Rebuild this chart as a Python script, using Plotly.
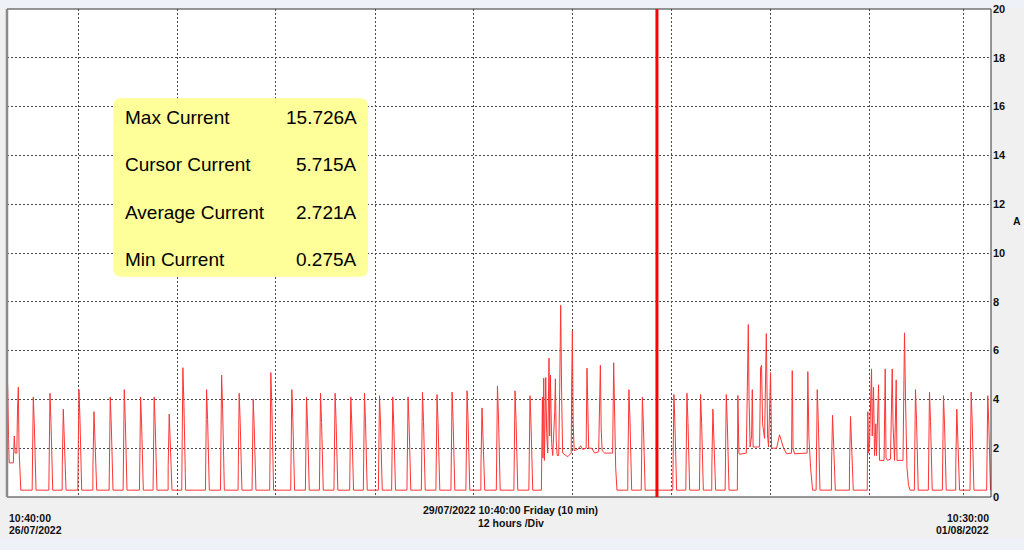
import plotly.graph_objects as go

# ---------------- data (time = hours since 26/07/2022 10:40:00, current in A) -------------
SPAN_H = 143.33
BASE_A = 0.28
SAMPLE_H = 1.0 / 6.0  # 10 min logging interval

start_t = [0.0, 0.12, 0.23, 0.32, 0.92, 1.06, 1.19, 1.43, 1.53, 1.65, 1.75, 1.89, 2.01]
start_a = [5.3, 4.3, 2.4, 1.4, 1.4, 2.5, 1.8, 1.8, 3.6, 4.5, 2.0, 1.2, 0.28]

spike_t = [3.83, 6.26, 8.20, 10.48, 12.67, 15.04, 17.08, 19.46, 21.44, 23.63,
           25.62, 29.07, 31.26, 33.82, 35.86, 38.43, 41.49, 43.63, 45.67, 47.79,
           50.08, 52.07, 54.26, 56.19, 58.42, 60.52, 62.64, 64.83, 67.01, 69.19,
           71.44, 74.00, 76.18, 90.59, 92.55, 97.14, 99.04, 101.03, 102.82, 104.77,
           118.02, 120.25, 122.87, 132.33, 134.37, 136.41, 138.35, 140.44, 142.86]
spike_a = [4.1, 4.25, 3.6, 4.4, 3.5, 4.1, 4.4, 4.1, 4.1, 3.4,
           5.3, 4.4, 5.0, 4.25, 4.0, 5.1, 4.4, 4.1, 4.25, 4.25,
           4.1, 4.25, 4.15, 4.1, 4.1, 4.3, 4.2, 4.3, 4.35, 3.65,
           4.55, 4.35, 4.15, 4.4, 4.1, 4.2, 4.25, 4.2, 3.6, 4.2,
           4.4, 3.35, 3.3, 4.4, 4.3, 4.15, 3.6, 4.3, 4.15]

burst1_t = [77.84, 77.86, 77.99, 78.07, 78.18, 78.28, 78.47, 78.61, 78.76, 78.95,
            79.05, 79.15, 79.34, 79.49, 79.78, 79.88, 80.00, 80.14, 80.36, 80.51,
            80.65, 80.80, 80.94, 81.67, 82.18, 82.25, 82.35, 82.47, 82.62, 83.13,
            83.56, 83.85, 84.36, 84.48, 84.58, 84.73, 85.16, 85.60, 86.18, 86.43,
            86.55, 86.69, 87.06, 88.22, 88.37, 88.51, 88.66, 88.85]
burst1_a = [0.28, 1.44, 4.1, 1.6, 4.87, 1.5, 4.9, 2.6, 1.8, 5.69,
            2.5, 5.0, 2.2, 1.7, 3.5, 4.84, 2.3, 1.7, 1.7, 4.5,
            7.86, 4.0, 1.8, 1.65, 1.8, 4.5, 6.8, 3.0, 1.9, 1.95,
            2.1, 1.95, 2.0, 5.28, 3.0, 2.0, 2.0, 1.8, 1.85, 5.4,
            2.8, 1.9, 1.8, 1.8, 5.5, 3.5, 1.2, 0.28]

burst2_t = [106.38, 106.46, 106.61, 106.71, 107.69, 107.80, 107.98, 108.09, 108.24, 108.46,
            108.56, 108.68, 109.62, 109.77, 109.91, 110.06, 110.35, 110.60, 110.79, 110.93,
            111.12, 111.22, 111.37, 112.10, 112.53, 112.82, 113.12, 113.55, 114.28, 114.38,
            114.50, 114.72, 116.54, 116.65, 116.80, 117.05, 117.34]
burst2_a = [0.28, 4.16, 1.8, 1.75, 1.8, 3.5, 7.07, 4.0, 2.05, 2.5,
            4.4, 2.05, 2.05, 5.3, 5.4, 3.0, 2.4, 6.7, 2.5, 2.05,
            3.5, 5.1, 2.0, 2.0, 2.55, 2.3, 2.0, 1.77, 1.8, 5.18,
            2.0, 1.77, 1.8, 5.14, 2.5, 1.2, 0.28]

burst3_t = [125.30, 125.39, 125.49, 125.64, 125.93, 126.03, 126.22, 126.36, 126.55, 126.65,
            126.95, 127.09, 127.75, 127.92, 128.04, 128.26, 128.69, 128.94, 129.06, 129.28,
            129.52, 129.64, 130.51, 130.73, 130.88, 131.09, 131.31, 131.53]
burst3_a = [0.28, 3.5, 1.8, 2.2, 5.25, 2.5, 4.5, 1.7, 3.0, 1.7,
            4.6, 1.5, 1.5, 5.25, 1.6, 1.5, 1.55, 5.25, 3.0, 1.5,
            4.8, 1.5, 1.5, 6.73, 4.0, 1.2, 0.5, 0.28]

grid_t = [10.48, 24.85, 39.16, 53.65, 67.99, 82.37, 96.81, 111.25, 125.59, 139.32]
cursor_t = 94.67

y_ticks = list(range(0, 21, 2))
stat_labels = ["Max Current", "Cursor Current", "Average Current", "Min Current"]
stat_values = ["15.726A", "5.715A", "2.721A", "0.275A"]

start_label = ["10:40:00", "26/07/2022"]
mid_label = ["29/07/2022 10:40:00 Friday (10 min)", "12 hours /Div"]
end_label = ["10:30:00", "01/08/2022"]
unit_label = "A"

# ---------------- assemble the logged trace ----------------
# shape of one logged pulse: offsets (in samples) from the peak sample
pulse_steps = [-1.0, -0.9, 0.0, 0.9, 1.8, 2.4]

points = list(zip(start_t, start_a))
for t, a in zip(spike_t, spike_a):
    levels = [BASE_A, 1.3, a, 0.72 * a, 1.5, BASE_A]
    for s, lv in zip(pulse_steps, levels):
        points.append((t + s * SAMPLE_H, lv))
for bt, ba in ((burst1_t, burst1_a), (burst2_t, burst2_a), (burst3_t, burst3_a)):
    points.extend(zip(bt, ba))
points.sort(key=lambda p: p[0])
trace_t = [p[0] for p in points]
trace_a = [p[1] for p in points]

# ---------------- figure ----------------
FONT = "Liberation Sans, Arial, sans-serif"
fig = go.Figure()
fig.add_trace(go.Scatter(x=trace_t, y=trace_a, mode="lines",
                         line=dict(color="#ff3535", width=1), hoverinfo="skip",
                         showlegend=False))

grid_color = "#4a4a4a"
fig.update_layout(
    width=1024, height=550,
    margin=dict(l=7, r=33, t=9, b=53, autoexpand=False),
    paper_bgcolor="#f0f0f0", plot_bgcolor="#ffffff",
    showlegend=False,
    xaxis=dict(range=[0, SPAN_H], tickvals=grid_t, showticklabels=False, ticks="",
               showgrid=True, gridcolor=grid_color, griddash="2px,2px", gridwidth=1,
               zeroline=False, showline=False, fixedrange=True, automargin=False),
    yaxis=dict(range=[0, 20], side="right", tickvals=y_ticks, ticks="",
               tickfont=dict(family=FONT, size=11, color="#111111", weight="bold"),
               showgrid=True, gridcolor=grid_color, griddash="2px,2px", gridwidth=1,
               zeroline=False, showline=False, ticklabelstandoff=1, fixedrange=True,
               automargin=False),
)

# window strips
fig.add_shape(type="rect", xref="paper", yref="paper", x0=-0.02, x1=1.05, y0=-0.084, y1=-0.13,
              fillcolor="#eef1f8", line=dict(width=0), layer="below")
fig.add_shape(type="rect", xref="paper", yref="paper", x0=-0.02, x1=1.05, y0=1.002, y1=1.03,
              fillcolor="#eef1f8", line=dict(width=0), layer="below")

# plot frame
fig.add_shape(type="rect", xref="paper", yref="paper", x0=0, x1=1, y0=0, y1=1,
              line=dict(color="#333333", width=1), layer="above")
fig.add_shape(type="line", xref="paper", yref="paper", x0=0, x1=0, y0=0, y1=1,
              line=dict(color="#8a8a8a", width=2.5), layer="above")

# cursor
fig.add_shape(type="line", xref="x", yref="paper", x0=cursor_t, x1=cursor_t, y0=0, y1=1,
              line=dict(color="#ff0000", width=3), layer="above")

# stats box (rounded)
bx0, bx1, by0, by1 = 15.48, 52.60, 9.03, 16.34
rx, ry = 1.165, 0.328
path = (f"M {bx0+rx},{by0} L {bx1-rx},{by0} Q {bx1},{by0} {bx1},{by0+ry} "
        f"L {bx1},{by1-ry} Q {bx1},{by1} {bx1-rx},{by1} L {bx0+rx},{by1} "
        f"Q {bx0},{by1} {bx0},{by1-ry} L {bx0},{by0+ry} Q {bx0},{by0} {bx0+rx},{by0} Z")
fig.add_shape(type="path", path=path, xref="x", yref="y", fillcolor="#ffff99",
              line=dict(width=0), layer="above")

row_y = [15.56, 13.64, 11.67, 9.75]
for lab, val, yy in zip(stat_labels, stat_values, row_y):
    fig.add_annotation(x=16.93, y=yy, xref="x", yref="y", text=lab, showarrow=False,
                       xanchor="left", yanchor="middle",
                       font=dict(family=FONT, size=19, color="#000000"))
    fig.add_annotation(x=51.29, y=yy, xref="x", yref="y", text=val, showarrow=False,
                       xanchor="right", yanchor="middle",
                       font=dict(family=FONT, size=19, color="#000000"))

lab_font = dict(family=FONT, size=10.5, color="#111111", weight="bold")
for txt, yy in zip(start_label, [-0.044, -0.068]):
    fig.add_annotation(x=0.0, y=yy, xref="paper", yref="paper", text=txt, showarrow=False,
                       xanchor="left", yanchor="middle", font=lab_font)
for txt, yy in zip(mid_label, [-0.027, -0.053]):
    fig.add_annotation(x=0.512, y=yy, xref="paper", yref="paper", text=txt, showarrow=False,
                       xanchor="center", yanchor="middle", font=lab_font)
for txt, yy in zip(end_label, [-0.044, -0.068]):
    fig.add_annotation(x=1.0, y=yy, xref="paper", yref="paper", text=txt, showarrow=False,
                       xanchor="right", yanchor="middle", font=lab_font)
fig.add_annotation(x=1.026, y=0.565, xref="paper", yref="paper", text=unit_label,
                   showarrow=False, xanchor="center", yanchor="middle", font=lab_font)

fig.write_html("out.html", config={"displayModeBar": False},
               post_script="document.body.style.margin='0px';")
